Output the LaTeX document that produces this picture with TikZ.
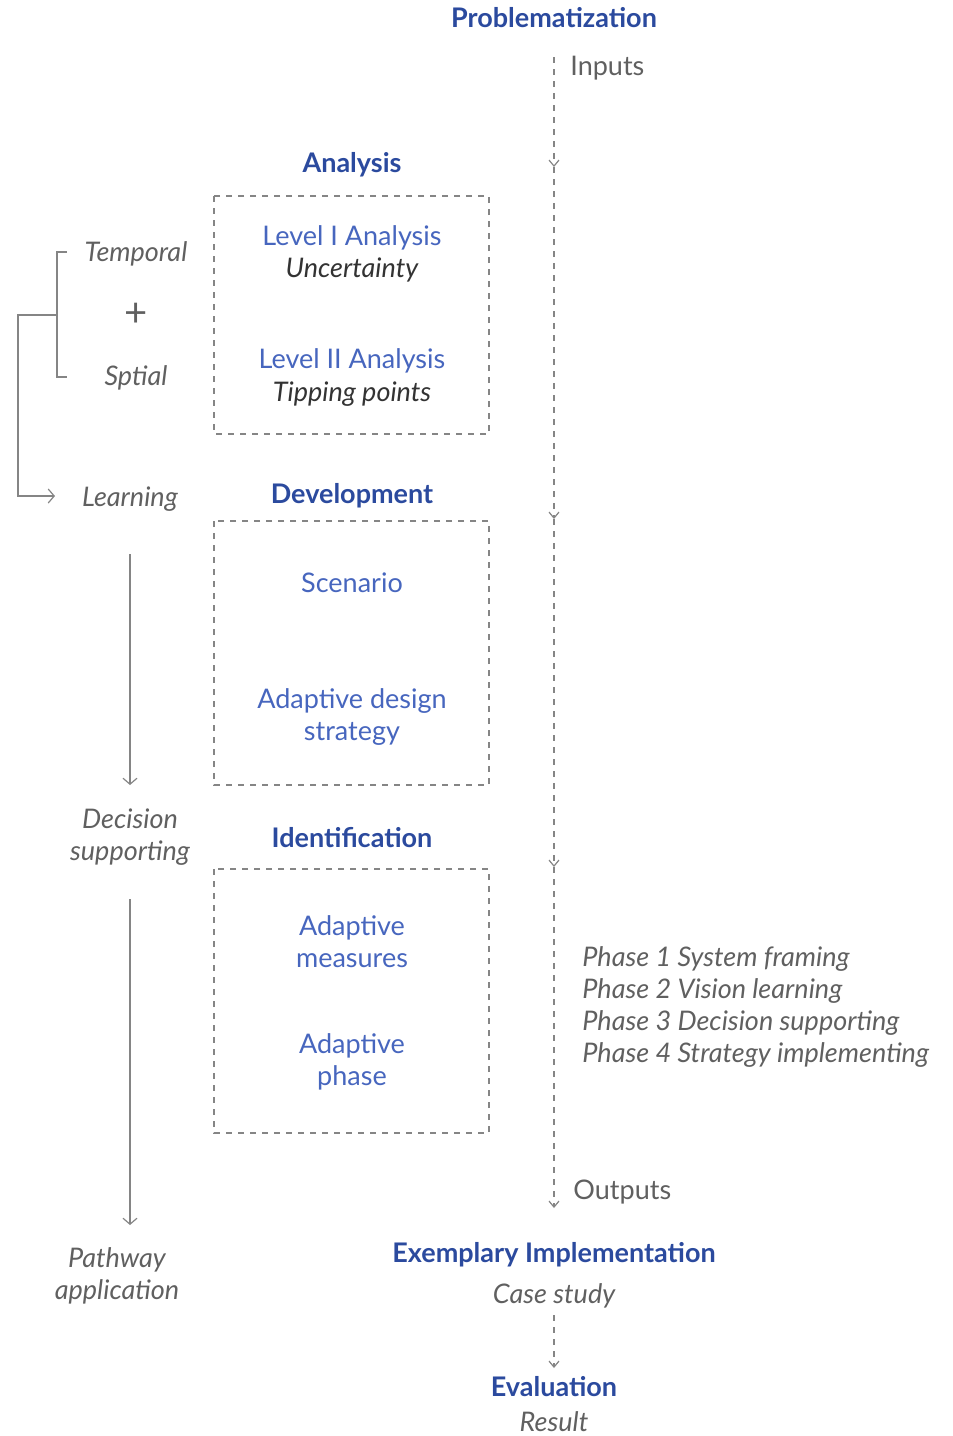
\documentclass[tikz,border=0pt]{standalone}
\usepackage{fontspec}
\setmainfont{Lato}
\usetikzlibrary{arrows.meta}
\definecolor{TituloAzul}{HTML}{2B4A9E}
\definecolor{NivelAzul}{HTML}{4766BE}
\definecolor{TextoGris}{HTML}{606060}
\definecolor{TextoOscuro}{HTML}{333333}
\definecolor{LineaGris}{HTML}{858585}
\tikzset{
    texto/.style={inner sep=0pt, anchor=base, align=center, font=\fontsize{13.5}{16}\selectfont},
    titulo/.style={texto, text=TituloAzul, font=\fontsize{13.5}{16}\selectfont\bfseries},
    nivel/.style={texto, text=NivelAzul},
    nota/.style={texto, text=TextoGris, font=\fontsize{13.5}{16}\selectfont\itshape},
    notaOscura/.style={nota, text=TextoOscuro},
    caja/.style={draw=LineaGris, dashed, line width=0.6pt},
    flujo/.style={draw=LineaGris, dashed, line width=0.6pt, -{Straight Barb[length=3pt, width=5pt]}},
    guia/.style={draw=LineaGris, line width=0.6pt},
}

\begin{document}
\begin{tikzpicture}[x=0.5pt, y=-0.5pt]
    \useasboundingbox (0, 0) rectangle (953, 1436);

    % Linea principal de entradas a salidas
    \coordinate (In) at (554, 57);
    \coordinate (M1) at (554, 167);
    \coordinate (M2) at (554, 519);
    \coordinate (M3) at (554, 867);
    \coordinate (Out) at (554, 1208);

    % Cajas de las tres etapas
    \draw[caja] (214, 196) rectangle (489, 434);
    \draw[caja] (214, 521) rectangle (489, 785);
    \draw[caja] (214, 869) rectangle (489, 1133);

    \draw[flujo] (In) -- (M1);
    \draw[flujo] (M1) -- (M2);
    \draw[flujo] (M2) -- (M3);
    \draw[flujo] (M3) -- (Out);

    \node[titulo] (problem) at (554, 27) {Problematization};
    \node[texto, text=TextoGris, anchor=base west] (inputs) at (570, 75) {Inputs};
    \node[texto, text=TextoGris, anchor=base west] (outputs) at (573, 1199) {Outputs};

    \node[titulo] (analysis) at (352, 172) {Analysis};
    \node[nivel] (levelOne) at (352, 245) {Level I Analysis};
    \node[notaOscura] (uncert) at (352, 277) {Uncertainty};
    \node[nivel] (levelTwo) at (352, 368) {Level II Analysis};
    \node[notaOscura] (tipping) at (352, 401) {Tipping points};

    \node[titulo] (develop) at (352, 503) {Development};
    \node[nivel] (scenario) at (352, 592) {Scenario};
    \node[nivel] (strategy) at (352, 740) {Adaptive design\\strategy};

    \node[titulo] (identif) at (352, 847) {Identification};
    \node[nivel] (measures) at (352, 967) {Adaptive\\measures};
    \node[nivel] (phase) at (352, 1085) {Adaptive\\phase};

    \node[nota, anchor=base west, align=left] (phases) at (582, 1062)
        {Phase 1 System framing\\Phase 2 Vision learning\\Phase 3 Decision supporting\\Phase 4 Strategy implementing};

    % Columna izquierda
    \node[nota] (temporal) at (136, 261) {Temporal};
    \node[texto, text=TextoGris, anchor=center, font=\fontsize{20}{20}\selectfont] (plus) at (136, 315) {+};
    \node[nota] (spatial) at (136, 385) {Sptial};
    \node[nota] (learning) at (130, 506) {Learning};
    \node[nota] (decision) at (130, 860) {Decision\\supporting};
    \node[nota] (pathway) at (117, 1299) {Pathway\\application};

    \draw[guia] (67, 252) -| (57, 377) -- (67, 377);
    \draw[guia, -{Straight Barb[length=3pt, width=7pt]}] (57, 315) -- (18, 315) |- (55, 496);
    \draw[guia, -{Straight Barb[length=3pt, width=7pt]}] (130, 554) -- (130, 785);
    \draw[guia, -{Straight Barb[length=3pt, width=7pt]}] (130, 899) -- (130, 1225);

    % Implementacion y evaluacion
    \node[titulo] (exemplary) at (554, 1262) {Exemplary Implementation};
    \node[nota] (casestudy) at (554, 1303) {Case study};
    \node[titulo] (evaluation) at (554, 1396) {Evaluation};
    \node[nota] (result) at (554, 1431) {Result};

    \coordinate (C1) at (554, 1315);
    \coordinate (C2) at (554, 1368);
    \draw[flujo] (C1) -- (C2);
\end{tikzpicture}
\end{document}
